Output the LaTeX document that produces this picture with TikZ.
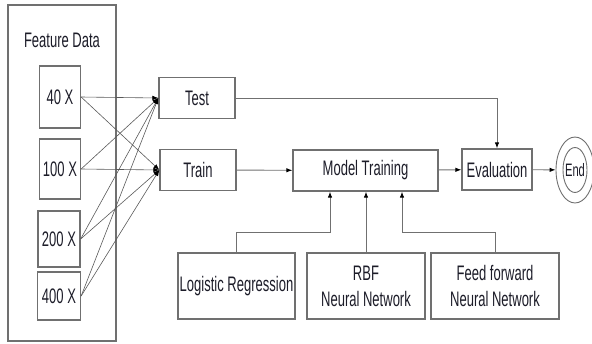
\documentclass[tikz,border=0pt]{standalone}
\usepackage{fontspec}
\setmainfont[FakeStretch=0.62]{Liberation Sans}
\usetikzlibrary{arrows.meta,shapes.geometric}
\definecolor{linegray}{HTML}{707070}
\definecolor{textdark}{HTML}{1C1C28}
\tikzset{
  box/.style={draw=linegray, line width=1.3pt, inner sep=0pt, align=center, text=textdark},
  link/.style={draw=linegray, line width=0.9pt, -{Latex[length=6pt,width=4.5pt,color=black]}},
  thinlink/.style={link, draw=black!65, line width=0.6pt}
}
\begin{document}
\begin{tikzpicture}[x=1pt,y=-1pt,font=\fontsize{21}{26}\selectfont]
\useasboundingbox (0,0) rectangle (592,343);
% feature data
\node[box, minimum width=108, minimum height=336] (feat) at (62,173) {};
\node[text=textdark] (feattitle) at (62,40) {Feature Data};
\node[box, minimum width=41, minimum height=62] (x40) at (60,97) {40 X};
\node[box, minimum width=41, minimum height=60] (x100) at (60,169) {100 X};
\node[box, minimum width=42, minimum height=56] (x200) at (59,239) {200 X};
\node[box, minimum width=43, minimum height=48] (x400) at (59,296) {400 X};
% split and training
\node[box, minimum width=76, minimum height=41] (test) at (197,98) {Test};
\node[box, minimum width=76, minimum height=41] (train) at (198,170) {Train};
\node[box, minimum width=145, minimum height=41] (model) at (365.5,170.5) {Model Training};
\node[box, minimum width=70, minimum height=41] (eval) at (497,169.5) {Evaluation};
\node[ellipse, draw=linegray, line width=0.9pt, minimum width=38, minimum height=66,
  inner sep=0pt, text=textdark, font=\fontsize{18}{20}\selectfont] (end) at (575,170) {End};
\draw[linegray, line width=0.9pt] (end.center) ellipse [x radius=12, y radius=22.5];
% models
\node[box, minimum width=117, minimum height=66] (logreg) at (236.5,286) {Logistic Regression};
\node[box, minimum width=118, minimum height=66] (rbf) at (366,286) {RBF\\Neural Network};
\node[box, minimum width=128, minimum height=66] (ffnn) at (495,286) {Feed forward\\Neural Network};

\foreach \s in {x40,x100,x200,x400}
{	\draw[thinlink] (\s.east) -- (test.west);
	\draw[thinlink] (\s.east) -- (train.west);
}
\draw[link] (test.east) -| (eval.north);
\draw[link] (train) -- (model);
\draw[link] (model) -- (eval);
\draw[link] (eval) -- (end);
\draw[link] (logreg.north) -- ++(0,-20) -| ([xshift=-35.5pt]model.south);
\draw[link] (rbf.north) -- (rbf.north |- model.south);
\draw[link] (ffnn.north) -- ++(0,-20) -| ([xshift=36.5pt]model.south);
\end{tikzpicture}
\end{document}
